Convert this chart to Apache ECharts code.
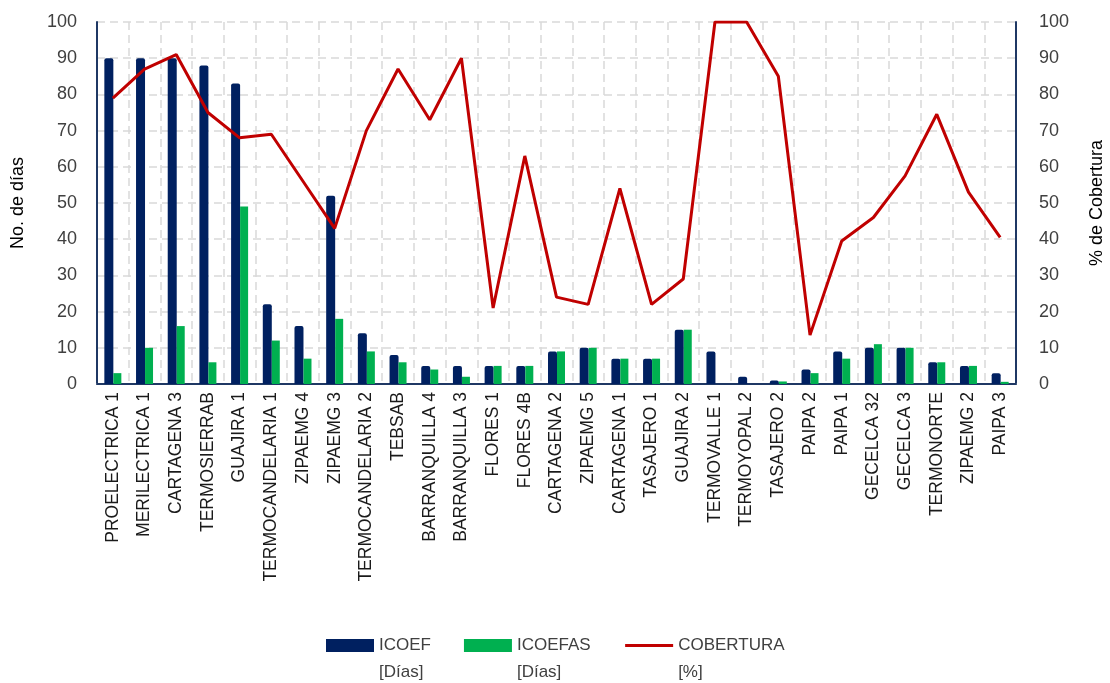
<!DOCTYPE html>
<html>
<head>
<meta charset="utf-8">
<script src="https://cdn.jsdelivr.net/npm/echarts@6/dist/echarts.min.js"></script>
<style>
  html, body { margin: 0; padding: 0; background: #ffffff; }
  #chart { width: 1110px; height: 683px; }
</style>
</head>
<body>
<div id="chart"></div>
<script>
// Generating units
var units = [
  'PROELECTRICA 1', 'MERILECTRICA 1', 'CARTAGENA 3', 'TERMOSIERRAB', 'GUAJIRA 1',
  'TERMOCANDELARIA 1', 'ZIPAEMG 4', 'ZIPAEMG 3', 'TERMOCANDELARIA 2', 'TEBSAB',
  'BARRANQUILLA 4', 'BARRANQUILLA 3', 'FLORES 1', 'FLORES 4B', 'CARTAGENA 2',
  'ZIPAEMG 5', 'CARTAGENA 1', 'TASAJERO 1', 'GUAJIRA 2', 'TERMOVALLE 1',
  'TERMOYOPAL 2', 'TASAJERO 2', 'PAIPA 2', 'PAIPA 1', 'GECELCA 32',
  'GECELCA 3', 'TERMONORTE', 'ZIPAEMG 2', 'PAIPA 3'
];

// ICOEF [Días]
var icoef = [90, 90, 90, 88, 83, 22, 16, 52, 14, 8, 5, 5, 5, 5, 9, 10, 7, 7, 15, 9, 2, 1, 4, 9, 10, 10, 6, 5, 3];

// ICOEFAS [Días]
var icoefas = [3, 10, 16, 6, 49, 12, 7, 18, 9, 6, 4, 2, 5, 5, 9, 10, 7, 7, 15, 0, 0, 0.7, 3, 7, 11, 10, 6, 5, 0.6];

// COBERTURA [%]
var cobertura = [79, 87, 91, 75, 68, 69, 56, 43, 70, 87, 73, 90, 21, 63, 24, 22, 54, 22, 29, 100, 100, 85, 13.5, 39.5, 46, 57.5, 74.5, 53, 40.5];

// Axis ticks
var axisMin = 0, axisMax = 100, axisStep = 10;

// Legend captions: the leading blank line keeps the icon level with the first caption line
var legendNames = {
  'ICOEF': '\nICOEF\n[Días]',
  'ICOEFAS': '\nICOEFAS\n[Días]',
  'COBERTURA': '\nCOBERTURA\n[%]'
};

var navy = '#002060';
var green = '#00B050';
var red = '#C00000';
var frame = '#1F3864';
var gridGray = '#D9D9D9';
var font = 'Liberation Sans, Arial, sans-serif';

var chart = echarts.init(document.getElementById('chart'), null, { renderer: 'canvas' });

var dashed = { color: gridGray, width: 1.5, type: [8, 5] };

chart.setOption({
  backgroundColor: '#ffffff',
  animation: false,
  textStyle: { fontFamily: font },
  grid: { left: 97, right: 94, top: 22, bottom: 299, containLabel: false, outerBoundsMode: 'none' },
  legend: {
    left: 326,
    top: 605,
    padding: 0,
    itemWidth: 48,
    itemHeight: 13,
    itemGap: 33,
    selectedMode: false,
    formatter: function (name) { return legendNames[name]; },
    textStyle: {
      fontFamily: font, fontSize: 17, color: '#404040', lineHeight: 27
    },
    data: [
      { name: 'ICOEF', icon: 'rect' },
      { name: 'ICOEFAS', icon: 'rect' },
      {
        name: 'COBERTURA',
        itemStyle: { color: 'rgba(0,0,0,0)', borderColor: 'rgba(0,0,0,0)', borderWidth: 0 },
        lineStyle: { color: red, width: 3 }
      }
    ]
  },
  xAxis: [
    {
      type: 'category',
      data: units,
      boundaryGap: true,
      axisLine: { show: true, lineStyle: { color: gridGray, width: 2 } },
      axisTick: { show: false },
      splitLine: { show: true, lineStyle: dashed },
      axisLabel: {
        rotate: 90, interval: 0, margin: 8,
        fontFamily: font, fontSize: 17.5, color: '#1a1a1a'
      }
    },
    {
      type: 'category',
      data: units,
      position: 'top',
      axisLine: { show: true, lineStyle: { color: frame, width: 2 } },
      axisTick: { show: false },
      axisLabel: { show: false },
      splitLine: { show: false }
    }
  ],
  yAxis: [
    {
      type: 'value',
      min: axisMin, max: axisMax, interval: axisStep,
      name: 'No. de días',
      nameLocation: 'middle',
      nameRotate: 90,
      nameGap: 70,
      nameTextStyle: { fontFamily: font, fontSize: 18, color: '#000000' },
      axisLine: { show: true, lineStyle: { color: frame, width: 2 } },
      axisTick: { show: false },
      splitLine: { show: true, lineStyle: dashed },
      axisLabel: { margin: 20, fontFamily: font, fontSize: 18, color: '#404040' }
    },
    {
      type: 'value',
      min: axisMin, max: axisMax, interval: axisStep,
      position: 'right',
      name: '% de Cobertura',
      nameLocation: 'middle',
      nameRotate: 90,
      nameGap: 72,
      nameTextStyle: { fontFamily: font, fontSize: 18, color: '#000000' },
      axisLine: { show: true, lineStyle: { color: frame, width: 2 } },
      axisTick: { show: false },
      splitLine: { show: false },
      axisLabel: { margin: 23, fontFamily: font, fontSize: 18, color: '#404040' }
    }
  ],
  series: [
    {
      name: 'ICOEF',
      type: 'bar',
      yAxisIndex: 0,
      data: icoef,
      barWidth: 9,
      barGap: '0%',
      itemStyle: { color: navy, borderRadius: [2, 2, 0, 0] }
    },
    {
      name: 'ICOEFAS',
      type: 'bar',
      yAxisIndex: 0,
      data: icoefas,
      barWidth: 8,
      barGap: '0%',
      itemStyle: { color: green }
    },
    {
      name: 'COBERTURA',
      type: 'line',
      yAxisIndex: 1,
      data: cobertura,
      symbol: 'none',
      lineStyle: { color: red, width: 3 },
      itemStyle: { color: red },
      z: 5
    }
  ]
});
</script>
</body>
</html>
